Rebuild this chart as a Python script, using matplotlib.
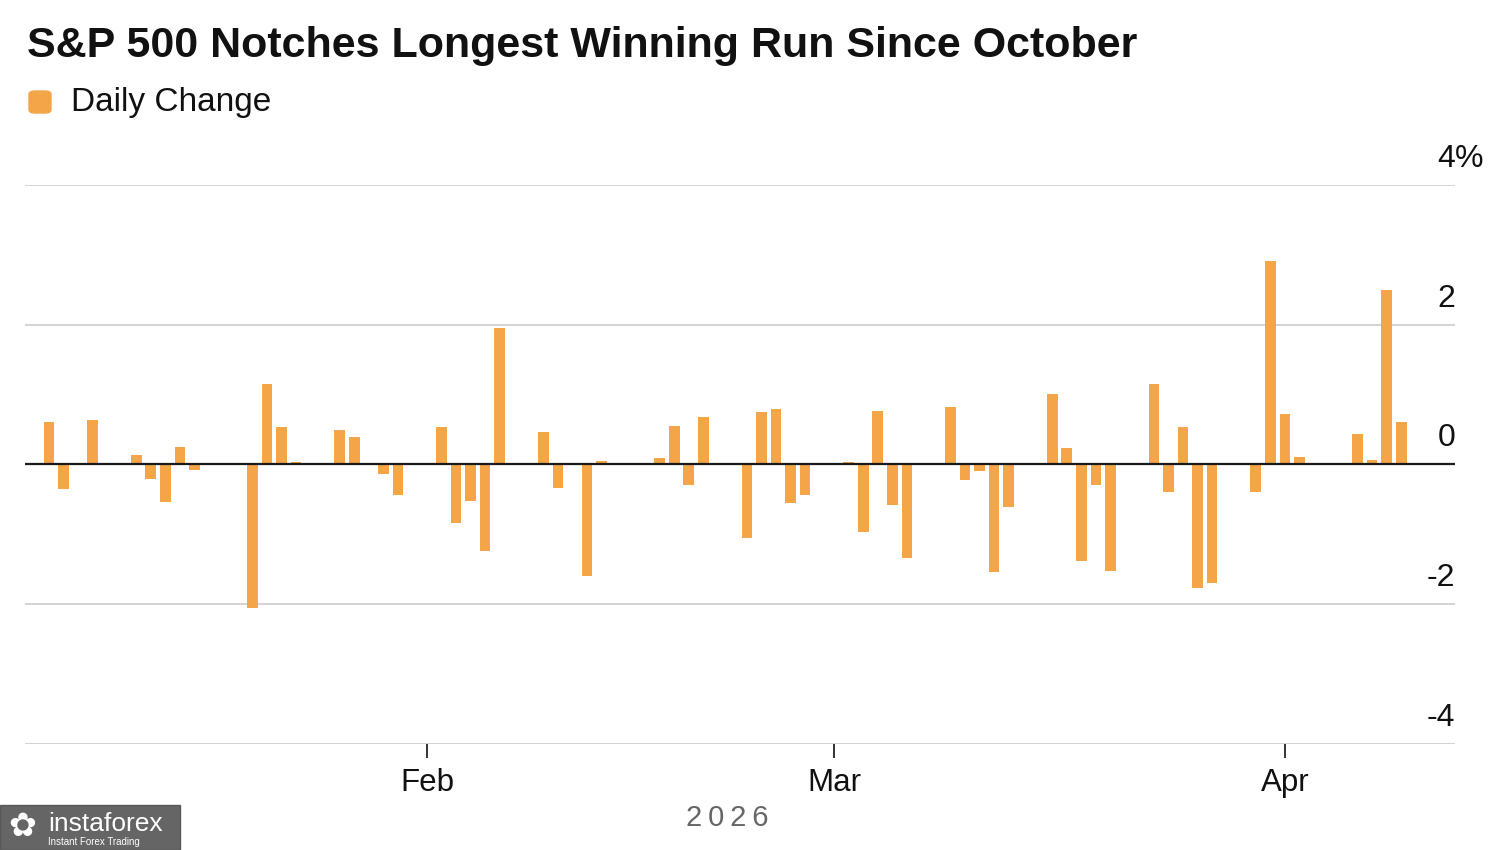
import datetime as dt
import matplotlib
matplotlib.use('Agg')
import matplotlib.pyplot as plt
import matplotlib.dates as mdates
from matplotlib.patches import FancyBboxPatch, Rectangle

# S&P 500 daily change, %
days = ['2026-01-06', '2026-01-07', '2026-01-08', '2026-01-09',
        '2026-01-12', '2026-01-13', '2026-01-14', '2026-01-15', '2026-01-16',
        '2026-01-20', '2026-01-21', '2026-01-22', '2026-01-23',
        '2026-01-26', '2026-01-27', '2026-01-28', '2026-01-29', '2026-01-30',
        '2026-02-02', '2026-02-03', '2026-02-04', '2026-02-05', '2026-02-06',
        '2026-02-09', '2026-02-10', '2026-02-11', '2026-02-12', '2026-02-13',
        '2026-02-17', '2026-02-18', '2026-02-19', '2026-02-20',
        '2026-02-23', '2026-02-24', '2026-02-25', '2026-02-26', '2026-02-27',
        '2026-03-02', '2026-03-03', '2026-03-04', '2026-03-05', '2026-03-06',
        '2026-03-09', '2026-03-10', '2026-03-11', '2026-03-12', '2026-03-13',
        '2026-03-16', '2026-03-17', '2026-03-18', '2026-03-19', '2026-03-20',
        '2026-03-23', '2026-03-24', '2026-03-25', '2026-03-26', '2026-03-27',
        '2026-03-30', '2026-03-31', '2026-04-01', '2026-04-02',
        '2026-04-06', '2026-04-07', '2026-04-08', '2026-04-09']
change = [0.61, -0.35, -0.01, 0.63,
          0.14, -0.21, -0.54, 0.25, -0.08,
          -2.06, 1.15, 0.54, 0.03,
          0.49, 0.40, -0.01, -0.13, -0.43,
          0.53, -0.84, -0.52, -1.24, 1.95,
          0.46, -0.34, -0.01, -1.59, 0.05,
          0.10, 0.55, -0.29, 0.68,
          -1.05, 0.75, 0.80, -0.55, -0.44,
          0.04, -0.96, 0.76, -0.58, -1.34,
          0.82, -0.22, -0.09, -1.54, -0.61,
          1.01, 0.24, -1.38, -0.29, -1.53,
          1.15, -0.39, 0.54, -1.77, -1.69,
          -0.40, 2.91, 0.72, 0.11,
          0.43, 0.07, 2.50, 0.61]
yticks = [-4, -2, 0, 2, 4]
month_ticks = ['2026-02-01', '2026-03-01', '2026-04-01']
month_labels = ['Feb', 'Mar', 'Apr']

orange = '#f3a548'
font = 'Liberation Sans'
plt.rcParams['font.family'] = [font, 'DejaVu Sans']

dates = [dt.datetime.strptime(d, '%Y-%m-%d') for d in days]

fig = plt.figure(figsize=(15, 8.5), dpi=100)
ax = fig.add_axes([25/1500, 1-744/850, 1430/1500, (744-185)/850])

ax.bar(dates, change, width=0.73, color=orange, zorder=3)
ax.axhline(0, color='#1a1a1a', lw=1.6, zorder=4)

ax.set_ylim(-4, 4)
ax.set_xlim(dt.datetime(2026, 2, 1) - dt.timedelta(days=27.65),
            dt.datetime(2026, 2, 1) + dt.timedelta(days=70.7))

ax.set_yticks(yticks)
ax.yaxis.grid(True, color='#d0d0d0', lw=1.3, zorder=0)
ax.tick_params(axis='y', left=False, right=False, labelleft=False, labelright=False)
for t in yticks:
    ax.text(1.0, t + 0.16, str(t), transform=ax.get_yaxis_transform(),
            ha='right', va='bottom', fontsize=23, color='#111111')
ax.text(1.0, 4 + 0.16, '%', transform=ax.get_yaxis_transform(),
        ha='left', va='bottom', fontsize=23, color='#111111')

ax.set_xticks([dt.datetime.strptime(d, '%Y-%m-%d') for d in month_ticks])
ax.set_xticklabels(month_labels)
ax.tick_params(axis='x', direction='out', length=10, width=1.3, color='#222222',
               labelsize=22.5, pad=7, labelcolor='#111111')

for s in ax.spines.values():
    s.set_visible(False)

fig.text(27/1500, 1-46/850, 'S&P 500 Notches Longest Winning Run Since October',
         fontsize=31, fontweight='bold', ha='left', va='center', color='#111111')

fig.patches.append(FancyBboxPatch((29/1500, 1-113/850), 22/1500, 22/850,
                                  boxstyle='round,pad=0,rounding_size=0.004',
                                  transform=fig.transFigure, color=orange))
fig.text(71/1500, 1-102/850, 'Daily Change', fontsize=24, ha='left', va='center',
         color='#111111')

fig.text(727/1500, 1-818/850, '\u2009'.join('2026'), fontsize=21,
         ha='center', va='center', color='#666666')

# watermark box in the corner
fig.patches.append(Rectangle((0, 0), 180/1500, 45/850, transform=fig.transFigure,
                             color='#4a4a4a', alpha=0.85))
fig.text(48/1500, 1-824/850, 'instaforex', fontsize=19, color='white',
         ha='left', va='center')
fig.text(48/1500, 1-842/850, 'Instant Forex Trading', fontsize=7, color='white',
         ha='left', va='center')
fig.text(22/1500, 1-827/850, '\u273f', fontsize=24, color='white',
         ha='center', va='center', family='DejaVu Sans')

fig.savefig('out.png', dpi=100)
